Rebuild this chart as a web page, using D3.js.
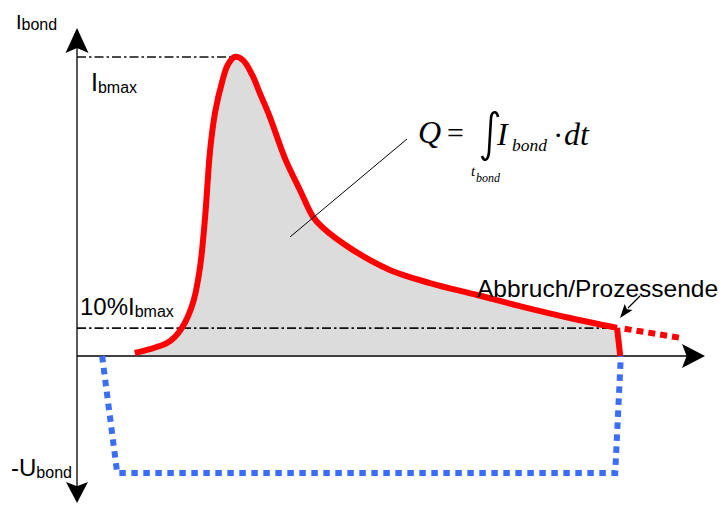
<!DOCTYPE html>
<html>
<head>
<meta charset="utf-8">
<script src="https://cdn.jsdelivr.net/npm/d3@7"></script>
<style>
  body { margin: 0; background: #fff; }
  text { font-family: "Liberation Sans", Arial, sans-serif; fill: #000; }
  .math { font-family: "Liberation Serif", "Times New Roman", serif; font-style: italic; }
</style>
</head>
<body>
<div id="chart"></div>
<script>
// bond current over time (I in % of Ibmax, t in % of axis length)
var tCurve = [9.2, 11.6, 14.3, 15.6, 16.7, 17.7, 18.6, 19.6, 20.4, 21.2, 22.0, 23.1, 24.0, 25.1, 26.4, 27.9, 29.1, 30.7, 33.1, 35.5, 37.6, 39.2, 43.9, 49.8, 56.2, 63.7, 70.5, 78.5, 86.0];
var iCurve = [1.0, 2.3, 4.3, 6.4, 9.4, 13.4, 18.7, 29.8, 46.5, 68.9, 81.6, 91.6, 97.3, 100, 99, 94, 88, 80, 66.2, 55.5, 46.5, 42.8, 35.5, 28.8, 24.4, 20.4, 16.7, 12.7, 9.4];
// drop at process end and the (virtual) continuation
var tDrop = [86.0, 86.5];
var iDrop = [9.4, 0];
var tTail = [87.2, 96.3];
var iTail = [9.1, 6.0];
// bond voltage (negative)
var tVolt = [4.0, 6.4, 85.7, 86.6];
var uVolt = [0, -39.1, -39.1, 0];
var iMax = 100;
var iTen = 10;

var width = 723, height = 506;

var x = d3.scaleLinear().domain([0, 100]).range([77, 705]);
var y = d3.scaleLinear().domain([0, 100]).range([356, 57]);

var svg = d3.select('#chart').append('svg')
  .attr('width', width)
  .attr('height', height);

var pts = tCurve.map(function(t, i) { return [t, iCurve[i]]; });

var line = d3.line()
  .x(function(d) { return x(d[0]); })
  .y(function(d) { return y(d[1]); });

var curveLine = d3.line()
  .curve(d3.curveCatmullRom.alpha(0.5))
  .x(function(d) { return x(d[0]); })
  .y(function(d) { return y(d[1]); });

var area = d3.area()
  .curve(d3.curveCatmullRom.alpha(0.5))
  .x(function(d) { return x(d[0]); })
  .y0(y(0) - 1)
  .y1(function(d) { return y(d[1]); });

// grey charge area
svg.append('path')
  .attr('d', area(pts))
  .attr('fill', '#dcdcdc');

// axes
var ax = svg.append('g').attr('stroke', '#000').attr('stroke-width', 1.3);
ax.append('line').attr('x1', x(0)).attr('x2', x(0)).attr('y1', 40).attr('y2', 492);
ax.append('line').attr('x1', x(0)).attr('x2', 695).attr('y1', y(0)).attr('y2', y(0));

function arrow(tipX, tipY, angle, len, half) {
  var a = angle * Math.PI / 180;
  var ux = Math.cos(a), uy = Math.sin(a);
  var bx = tipX - ux * len, by = tipY - uy * len;
  var nx = -uy, ny = ux;
  var mx = tipX - ux * len * 0.8, my = tipY - uy * len * 0.8;
  return 'M' + tipX + ',' + tipY +
    'L' + (bx + nx * half) + ',' + (by + ny * half) +
    'L' + mx + ',' + my +
    'L' + (bx - nx * half) + ',' + (by - ny * half) + 'Z';
}
svg.append('path').attr('d', arrow(x(0), 28, -90, 25, 11.5)).attr('fill', '#000');
svg.append('path').attr('d', arrow(x(0), 503, 90, 21, 11)).attr('fill', '#000');
svg.append('path').attr('d', arrow(705, y(0), 0, 23, 12)).attr('fill', '#000');

// dash-dot reference lines
svg.append('line')
  .attr('x1', x(0)).attr('x2', x(24.6))
  .attr('y1', y(iMax)).attr('y2', y(iMax))
  .attr('stroke', '#111').attr('stroke-width', 1.6)
  .attr('stroke-dasharray', '9,3,2.5,3');
svg.append('line')
  .attr('x1', x(0)).attr('x2', x(86))
  .attr('y1', y(iTen) + 2).attr('y2', y(iTen) + 2)
  .attr('stroke', '#111').attr('stroke-width', 1.6)
  .attr('stroke-dasharray', '9,3,2.5,3');

// voltage (blue dotted)
svg.append('path')
  .attr('d', line(tVolt.map(function(t, i) { return [t, uVolt[i]]; })))
  .attr('fill', 'none')
  .attr('stroke', '#3b6ef6')
  .attr('stroke-width', 6)
  .attr('stroke-dasharray', '6.5,5.5');

// current (red)
svg.append('path')
  .attr('d', curveLine(pts))
  .attr('fill', 'none')
  .attr('stroke', '#ff0000')
  .attr('stroke-width', 6)
  .attr('stroke-linejoin', 'round');
svg.append('path')
  .attr('d', line(tDrop.map(function(t, i) { return [t, iDrop[i]]; })))
  .attr('fill', 'none')
  .attr('stroke', '#ff0000')
  .attr('stroke-width', 6);
svg.append('path')
  .attr('d', line(tTail.map(function(t, i) { return [t, iTail[i]]; })))
  .attr('fill', 'none')
  .attr('stroke', '#ff0000')
  .attr('stroke-width', 6)
  .attr('stroke-dasharray', '7,5');

// labels
var t1 = svg.append('text').attr('x', 16).attr('y', 29);
t1.append('tspan').attr('font-size', 20).text('I');
t1.append('tspan').attr('font-size', 16).attr('dy', 1).text('bond');

var t2 = svg.append('text').attr('x', 91).attr('y', 91);
t2.append('tspan').attr('font-size', 25).text('I');
t2.append('tspan').attr('font-size', 16).attr('dy', 2).text('bmax');

var t3 = svg.append('text').attr('x', 80).attr('y', 315);
t3.append('tspan').attr('font-size', 24).text('10%I');
t3.append('tspan').attr('font-size', 16).attr('dy', 2).text('bmax');

var t4 = svg.append('text').attr('x', 11).attr('y', 476);
t4.append('tspan').attr('font-size', 24).text('-U');
t4.append('tspan').attr('font-size', 16).attr('dy', 2).text('bond');

svg.append('text').attr('x', 477).attr('y', 297)
  .attr('font-size', 24.5).text('Abbruch/Prozessende');

// pointer to process end
svg.append('line')
  .attr('x1', 640).attr('y1', 296).attr('x2', 628).attr('y2', 308)
  .attr('stroke', '#000').attr('stroke-width', 1.2);
svg.append('path').attr('d', arrow(620, 318, 128, 14, 5)).attr('fill', '#000');

// leader line to the area
svg.append('line')
  .attr('x1', 290).attr('y1', 237).attr('x2', 407).attr('y2', 139)
  .attr('stroke', '#000').attr('stroke-width', 1);

// formula Q = ∫ I_bond · dt
var f = svg.append('g').attr('class', 'math');
f.append('text').attr('class', 'math').attr('x', 418).attr('y', 143).attr('font-size', 32).text('Q');
f.append('text').attr('x', 445).attr('y', 143).attr('font-size', 30)
  .style('font-family', '"Liberation Serif", serif').text('=');
f.append('path')
  .attr('d', 'M498,117 C497,111 492,110 491,118 L489,152 C488,161 484,162 482,156')
  .attr('fill', 'none').attr('stroke', '#000').attr('stroke-width', 2.6);
f.append('text').attr('class', 'math').attr('x', 497).attr('y', 145).attr('font-size', 32).text('I');
f.append('text').attr('class', 'math').attr('x', 512).attr('y', 151).attr('font-size', 17.5).text('bond');
f.append('text').attr('x', 554).attr('y', 145).attr('font-size', 30)
  .style('font-family', '"Liberation Serif", serif').text('\u00b7');
f.append('text').attr('class', 'math').attr('x', 564).attr('y', 145).attr('font-size', 32).text('dt');
f.append('text').attr('class', 'math').attr('x', 471).attr('y', 176).attr('font-size', 15).text('t');
f.append('text').attr('class', 'math').attr('x', 476).attr('y', 182).attr('font-size', 12).text('bond');
</script>
</body>
</html>
